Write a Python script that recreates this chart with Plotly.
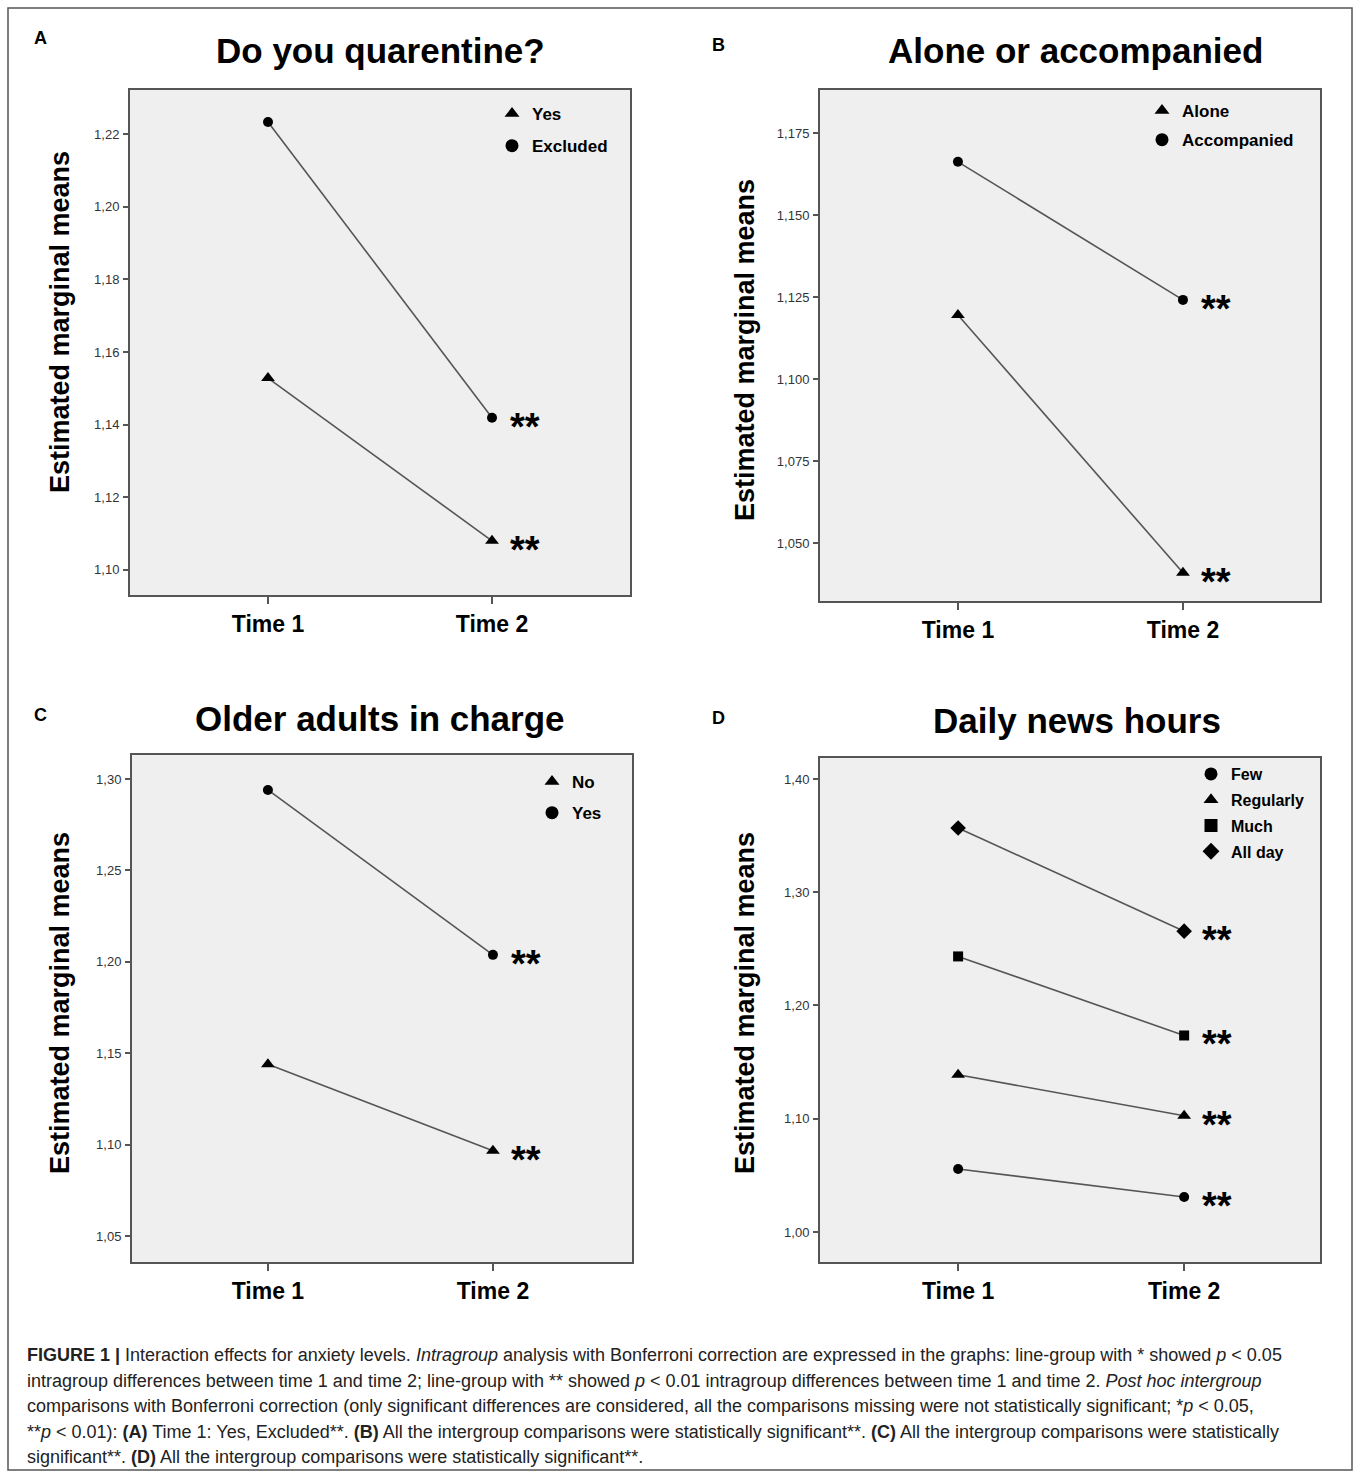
import plotly.graph_objects as go

W, H = 1357, 1475

times = ["Time 1", "Time 2"]

# Panel A: Do you quarentine?
a_groups = ["Yes", "Excluded"]
a_yes = [1.1528, 1.1080]
a_excluded = [1.2233, 1.1419]
a_ticks = [1.10, 1.12, 1.14, 1.16, 1.18, 1.20, 1.22]
a_ticktext = ["1,10", "1,12", "1,14", "1,16", "1,18", "1,20", "1,22"]

# Panel B: Alone or accompanied
b_groups = ["Alone", "Accompanied"]
b_alone = [1.1195, 1.0409]
b_accompanied = [1.1662, 1.1241]
b_ticks = [1.050, 1.075, 1.100, 1.125, 1.150, 1.175]
b_ticktext = ["1,050", "1,075", "1,100", "1,125", "1,150", "1,175"]

# Panel C: Older adults in charge
c_groups = ["No", "Yes"]
c_no = [1.1440, 1.0967]
c_yes = [1.2940, 1.2038]
c_ticks = [1.05, 1.10, 1.15, 1.20, 1.25, 1.30]
c_ticktext = ["1,05", "1,10", "1,15", "1,20", "1,25", "1,30"]

# Panel D: Daily news hours
d_groups = ["Few", "Regularly", "Much", "All day"]
d_few = [1.0556, 1.0309]
d_regularly = [1.1389, 1.1026]
d_much = [1.2433, 1.1735]
d_allday = [1.3567, 1.2656]
d_ticks = [1.00, 1.10, 1.20, 1.30, 1.40]
d_ticktext = ["1,00", "1,10", "1,20", "1,30", "1,40"]

titles = ["Do you quarentine?", "Alone or accompanied", "Older adults in charge", "Daily news hours"]
letters = ["A", "B", "C", "D"]
ytitle = "Estimated marginal means"
sig = "**"

FONT = "Liberation Sans, Arial, sans-serif"
LINE_COLOR = "#555555"

# pixel geometry of plot boxes (left, right, top, bottom)
boxes = [(130, 630, 90, 595), (820, 1320, 90, 601), (132, 632, 755, 1262), (820, 1320, 758, 1262)]
yranges = [[1.0931, 1.2321], [1.0323, 1.1881], [1.0358, 1.3131], [0.9735, 1.4185]]
xranges = [[-0.616, 1.616], [-0.613, 1.609], [-0.604, 1.618], [-0.611, 1.601]]

def px(x):
    return x / W

def py(y):
    return 1 - y / H

panels = [
    (a_groups, [a_yes, a_excluded], ["triangle-up", "circle"], a_ticks, a_ticktext),
    (b_groups, [b_alone, b_accompanied], ["triangle-up", "circle"], b_ticks, b_ticktext),
    (c_groups, [c_no, c_yes], ["triangle-up", "circle"], c_ticks, c_ticktext),
    (d_groups, [d_few, d_regularly, d_much, d_allday], ["circle", "triangle-up", "square", "diamond"], d_ticks, d_ticktext),
]

fig = go.Figure()
layout = dict(
    width=W, height=H,
    margin=dict(l=0, r=0, t=0, b=0),
    paper_bgcolor="white",
    showlegend=True,
    font=dict(family=FONT, color="#111111"),
)

annotations = []
legend_pos = [(492, 96, 7), (1142, 93, 4), (532, 764, 6), (1191, 757, 2)]
legend_fs = [17, 17, 17, 16]
title_pos = [(380, 50), (1075, 50), (380, 718), (1077, 720)]
letter_pos = [(40, 38), (718, 45), (40, 715), (718, 718)]
ytitle_pos = [(60, 322), (745, 350), (60, 1003), (745, 1003)]

for i, (groups, series, symbols, ticks, ticktext) in enumerate(panels):
    k = "" if i == 0 else str(i + 1)
    xa, ya = "x" + k, "y" + k
    leg = "legend" if i == 0 else "legend" + str(i + 1)
    l, r, t, b = boxes[i]
    marker_sizes = {"circle": 10, "triangle-up": 12, "square": 10, "diamond": 12}
    for g, vals, sym in zip(groups, series, symbols):
        fig.add_trace(go.Scatter(
            x=times, y=vals, mode="lines+markers",
            line=dict(color=LINE_COLOR, width=1.6),
            marker=dict(symbol=sym, size=marker_sizes[sym], color="black"),
            xaxis=xa, yaxis=ya, showlegend=False, hoverinfo="skip",
        ))
        annotations.append(dict(
            x=times[1], y=vals[1], xref=xa, yref=ya, text=sig, showarrow=False,
            xanchor="left", yanchor="middle", xshift=16, yshift=-9,
            font=dict(family=FONT, size=38, color="black", weight="bold"),
        ))
    # legend entries (marker only)
    for g, sym in zip(groups, symbols):
        fig.add_trace(go.Scatter(
            x=[None], y=[None], mode="markers", name=g,
            marker=dict(symbol=sym, size=13, color="black"),
            xaxis=xa, yaxis=ya, legend=leg, legendgroup=leg + g, showlegend=True,
        ))
    lx, ly, gap = legend_pos[i]
    layout[leg] = dict(
        x=px(lx), y=py(ly), xanchor="left", yanchor="top",
        bgcolor="rgba(0,0,0,0)", borderwidth=0,
        font=dict(family=FONT, size=legend_fs[i], color="black", weight="bold"),
        tracegroupgap=gap, itemclick=False, itemdoubleclick=False,
    )
    layout["xaxis" + k] = dict(
        domain=[px(l), px(r)], anchor=ya, type="category", range=xranges[i],
        showline=True, mirror=True, linecolor=LINE_COLOR, linewidth=2,
        showgrid=False, zeroline=False,
        ticks="outside", ticklen=7, tickwidth=1.5, tickcolor=LINE_COLOR,
        tickfont=dict(family=FONT, size=23, color="black", weight="bold"),
        ticklabelstandoff=0, fixedrange=True,
    )
    layout["yaxis" + k] = dict(
        domain=[py(b), py(t)], anchor=xa, range=yranges[i],
        tickvals=ticks, ticktext=ticktext,
        showline=True, mirror=True, linecolor=LINE_COLOR, linewidth=2,
        showgrid=False, zeroline=False,
        ticks="outside", ticklen=5, tickwidth=1.5, tickcolor=LINE_COLOR,
        tickfont=dict(family=FONT, size=13, color="#333333"),
        ticklabelstandoff=1, fixedrange=True,
    )
    annotations.append(dict(
        x=px(title_pos[i][0]), y=py(title_pos[i][1]), xref="paper", yref="paper",
        text=titles[i], showarrow=False, xanchor="center", yanchor="middle",
        font=dict(family=FONT, size=35, color="black", weight="bold"),
    ))
    annotations.append(dict(
        x=px(letter_pos[i][0]), y=py(letter_pos[i][1]), xref="paper", yref="paper",
        text=letters[i], showarrow=False, xanchor="center", yanchor="middle",
        font=dict(family=FONT, size=18, color="black", weight="bold"),
    ))
    annotations.append(dict(
        x=px(ytitle_pos[i][0]), y=py(ytitle_pos[i][1]), xref="paper", yref="paper",
        text=ytitle, showarrow=False, xanchor="center", yanchor="middle", textangle=-90,
        font=dict(family=FONT, size=27, color="black", weight="bold"),
    ))

caption_lines = [
    "<b>FIGURE 1 |</b> Interaction effects for anxiety levels. <i>Intragroup</i> analysis with Bonferroni correction are expressed in the graphs: line-group with * showed <i>p</i> &lt; 0.05",
    "intragroup differences between time 1 and time 2; line-group with ** showed <i>p</i> &lt; 0.01 intragroup differences between time 1 and time 2. <i>Post hoc intergroup</i>",
    "comparisons with Bonferroni correction (only significant differences are considered, all the comparisons missing were not statistically significant; *<i>p</i> &lt; 0.05,",
    "**<i>p</i> &lt; 0.01): <b>(A)</b> Time 1: Yes, Excluded**. <b>(B)</b> All the intergroup comparisons were statistically significant**. <b>(C)</b> All the intergroup comparisons were statistically",
    "significant**. <b>(D)</b> All the intergroup comparisons were statistically significant**.",
]
cap_y0, cap_dy = 1355, 25.5
for j, line in enumerate(caption_lines):
    annotations.append(dict(
        x=px(25), y=py(cap_y0 + j * cap_dy), xref="paper", yref="paper",
        text=line, showarrow=False, xanchor="left", yanchor="middle",
        font=dict(family="Liberation Sans Narrow, Liberation Sans, Arial, sans-serif", size=18, color="#222222"),
    ))

layout["annotations"] = annotations
layout["shapes"] = [dict(
    type="rect", xref="paper", yref="paper",
    x0=px(8), x1=px(1352), y0=py(1470), y1=py(8),
    line=dict(color="#555555", width=1.5), fillcolor="rgba(0,0,0,0)", layer="below",
)]
fig.update_layout(**layout)
fig.update_layout(plot_bgcolor="#efefef")

fig.write_html(
    "out.html",
    config={"displayModeBar": False, "staticPlot": False},
    post_script="document.body.style.margin='0';document.body.style.padding='0';",
)
